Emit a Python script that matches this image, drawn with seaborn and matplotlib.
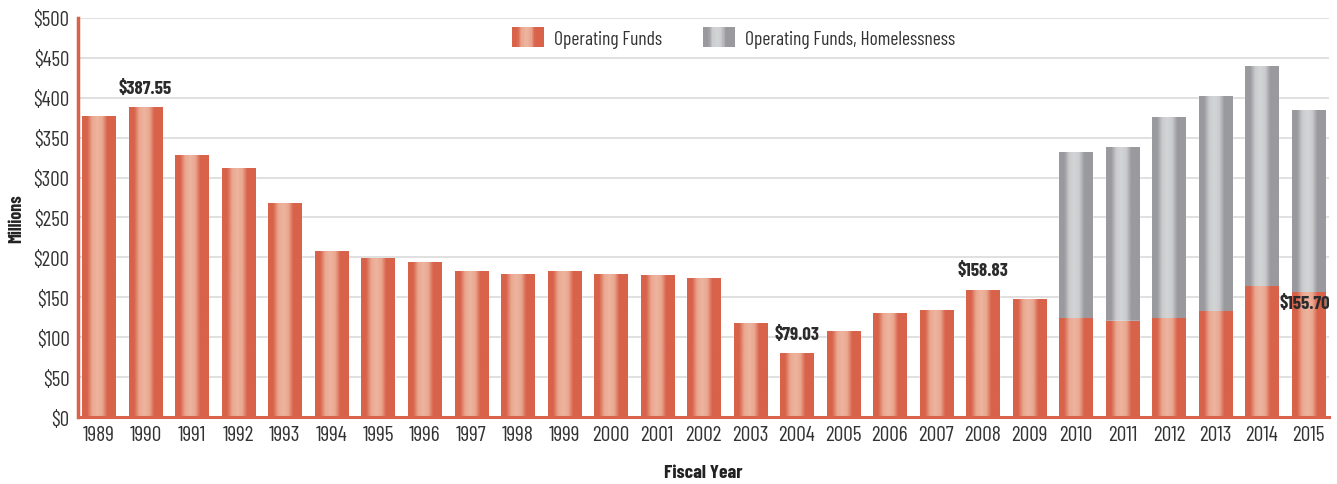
import numpy as np
import pandas as pd
import matplotlib
matplotlib.use("Agg")
import matplotlib.pyplot as plt
import seaborn as sns
from matplotlib.patches import Rectangle
from matplotlib.legend_handler import HandlerBase

years = [str(y) for y in range(1989, 2016)]
operating = [377.0, 387.55, 328.0, 311.0, 268.0, 207.0, 198.0, 194.0, 182.0, 179.0,
             182.0, 179.0, 177.0, 173.0, 116.5, 79.03, 107.0, 129.5, 134.0, 158.83,
             146.6, 122.8, 120.0, 123.0, 131.6, 163.0, 155.70]
homeless = [np.nan] * 21 + [209.0, 217.0, 252.0, 270.0, 276.0, 228.0]
labels = {"1990": "$387.55", "2004": "$79.03", "2008": "$158.83"}

sns.set_theme(style="white")
plt.rcParams['font.family'] = ['Barlow Condensed', 'DejaVu Sans']

df = pd.DataFrame({"year": years, "op": operating, "hl": homeless})
df["total"] = df["op"] + df["hl"].fillna(0)
df.loc[df["hl"].isna(), "total"] = np.nan

ORANGE_D = np.array(matplotlib.colors.to_rgb("#D8624A"))
ORANGE_L = np.array(matplotlib.colors.to_rgb("#EDB49E"))
GREY_D = np.array(matplotlib.colors.to_rgb("#9A9A9E"))
GREY_L = np.array(matplotlib.colors.to_rgb("#D3D4D6"))

def gradient(dark, light, n=64):
    t = np.linspace(0, 1, n)
    w = np.interp(t, [0, 0.15, 0.3, 0.45, 0.6, 0.75, 1], [0, 0, 0.85, 1, 0.85, 0, 0])
    return dark[None, :] * (1 - w[:, None]) + light[None, :] * w[:, None]

fig = plt.figure(figsize=(13.37, 4.85), dpi=100)
ax = fig.add_axes([0.0583, 0.138, 0.936, 0.823])

sns.barplot(data=df, x="year", y="total", color="#9A9A9E", width=0.71,
            saturation=1, ax=ax, order=years)
n_grey = len(ax.patches)
sns.barplot(data=df, x="year", y="op", color="#D8624A", width=0.71,
            saturation=1, ax=ax, order=years)

grey_img = gradient(GREY_D, GREY_L)[None, :, :]
orange_img = gradient(ORANGE_D, ORANGE_L)[None, :, :]
for i, p in enumerate(ax.patches):
    h = p.get_height()
    if not np.isfinite(h) or h <= 0:
        continue
    x0, y0, w = p.get_x(), p.get_y(), p.get_width()
    img = grey_img if i < n_grey else orange_img
    extra = 0.5 if i >= n_grey else 0
    p.set_zorder(p.get_zorder() + extra)
    ax.imshow(img, extent=(x0, x0 + w, y0, y0 + h), aspect='auto',
              interpolation='bilinear', zorder=p.get_zorder() + 0.1)

ax.set_xlim(-0.45, 26.45)
ax.set_ylim(0, 500)
ax.set_yticks(range(0, 501, 50))
ax.set_yticklabels([f"${v}" for v in range(0, 501, 50)])
ax.yaxis.grid(True, color="#DDDDDD", linewidth=1.3)
ax.set_axisbelow(True)
for s in ["top", "right"]:
    ax.spines[s].set_visible(False)
ax.spines["left"].set_color("#D8624A")
ax.spines["left"].set_linewidth(2.5)
ax.spines["bottom"].set_color("#D8624A")
ax.spines["bottom"].set_linewidth(2.2)
ax.tick_params(axis="y", length=0, labelsize=15, labelcolor="#333333", pad=6)
ax.tick_params(axis="x", length=0, labelsize=15.5, labelcolor="#333333", pad=6)

ax.set_xlabel("Fiscal Year", fontsize=14, fontweight="bold", color="#222222", labelpad=14)
ax.set_ylabel("Millions", fontsize=13, fontweight="bold", color="#222222", labelpad=6)

for yr, txt in labels.items():
    i = years.index(yr)
    ax.text(i, operating[i] + 14, txt, ha="center", va="bottom", fontsize=13.5,
            fontweight="bold", color="#2b2b2b", zorder=5)
i15 = years.index("2015")
ax.text(i15 - 0.07, operating[i15] - 14, "$155.70", ha="center", va="center", fontsize=13.5,
        fontweight="bold", color="#2b2b2b", zorder=5)

class GradHandler(HandlerBase):
    def __init__(self, dark, light):
        super().__init__()
        self.cols = gradient(dark, light, 24)
    def create_artists(self, legend, orig_handle, xdescent, ydescent, width, height, fontsize, trans):
        arts = []
        n = len(self.cols)
        for k, c in enumerate(self.cols):
            r = Rectangle((-xdescent + width * k / n, -ydescent - 2), width / n + 0.3, height + 4,
                          facecolor=c, edgecolor="none", transform=trans)
            arts.append(r)
        return arts

h1 = Rectangle((0, 0), 1, 1)
h2 = Rectangle((0, 0), 1, 1)
leg = ax.legend([h1, h2], ["Operating Funds", "Operating Funds, Homelessness"],
                handler_map={h1: GradHandler(ORANGE_D, ORANGE_L), h2: GradHandler(GREY_D, GREY_L)},
                loc="center", bbox_to_anchor=(0.524, 0.948), ncol=2, frameon=False,
                fontsize=14, handlelength=1.6, handleheight=0.75, columnspacing=2.1,
                handletextpad=0.55, borderpad=0.3)
for t in leg.get_texts():
    t.set_color("#333333")

fig.savefig("out.png", dpi=100)
